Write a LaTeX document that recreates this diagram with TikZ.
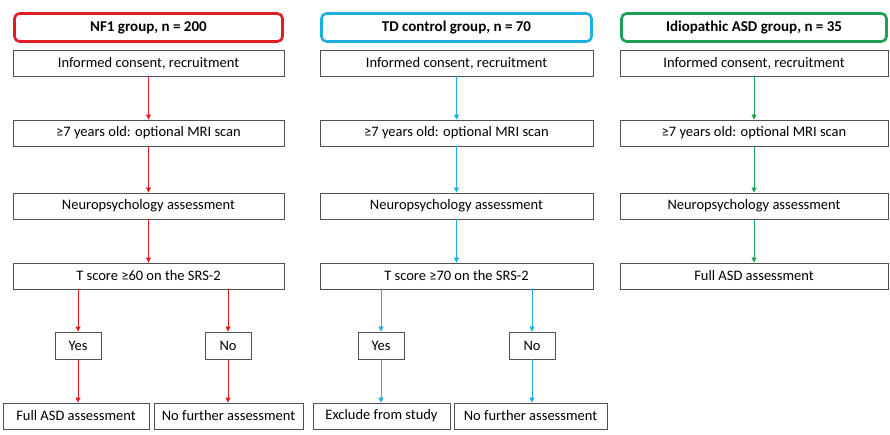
\documentclass[tikz,border=0pt]{standalone}
\usepackage{fontspec}
\setmainfont{Carlito}
\usetikzlibrary{arrows.meta}
\definecolor{nfred}{RGB}{222,30,36}
\definecolor{tdblue}{RGB}{30,174,224}
\definecolor{asdgreen}{RGB}{28,160,84}
\definecolor{boxgray}{RGB}{80,80,80}
\begin{document}
\begin{tikzpicture}[x=1pt,y=-1pt,
  box/.style={draw=boxgray, line width=0.8pt, inner sep=0pt, minimum height=26pt, font=\fontsize{14.5}{17}\selectfont},
  hdr/.style={rounded corners=5pt, line width=2.6pt, inner sep=0pt, minimum height=28pt, font=\bfseries\fontsize{15}{18}\selectfont},
  arr/.style={line width=0.7pt, -{Triangle[length=5pt,width=5pt]}}]
\useasboundingbox (0,0) rectangle (890,434);
% NF1 column
\node[hdr, draw=nfred, minimum width=268pt] (h1) at (148.5,27.5) {NF1 group, n = 200};
\node[box, minimum width=271pt] (a1) at (148.5,63) {Informed consent, recruitment};
\node[box, minimum width=271pt] (b1) at (148.5,133) {≥7 years old: optional MRI scan};
\node[box, minimum width=271pt] (c1) at (148.5,206) {Neuropsychology assessment};
\node[box, minimum width=271pt] (d1) at (148.5,276) {T score ≥60 on the SRS-2};
\node[box, minimum width=46pt, minimum height=27pt] (y1) at (78,345.5) {Yes};
\node[box, minimum width=46pt, minimum height=27pt] (n1) at (228,345.5) {No};
\node[box, minimum width=146pt] (e1) at (76,416) {Full ASD assessment};
\node[box, minimum width=149pt] (f1) at (228.5,416) {No further assessment};
\begin{scope}[nfred]
\draw[arr] (a1) -- (b1);
\draw[arr] (b1) -- (c1);
\draw[arr] (c1) -- (d1);
\draw[arr] (d1.south -| y1.north) -- (y1.north);
\draw[arr] (d1.south -| n1.north) -- (n1.north);
\draw[arr] (y1.south) -- (y1.south |- e1.north);
\draw[arr] (n1.south) -- (n1.south |- f1.north);
\end{scope}
% TD column
\node[hdr, draw=tdblue, minimum width=270pt] (h2) at (456.5,27.5) {TD control group, n = 70};
\node[box, minimum width=273pt] (a2) at (456.5,63) {Informed consent, recruitment};
\node[box, minimum width=273pt] (b2) at (456.5,133) {≥7 years old: optional MRI scan};
\node[box, minimum width=273pt] (c2) at (456.5,206) {Neuropsychology assessment};
\node[box, minimum width=273pt] (d2) at (456.5,276) {T score ≥70 on the SRS-2};
\node[box, minimum width=46pt, minimum height=27pt] (y2) at (381,345.5) {Yes};
\node[box, minimum width=46pt, minimum height=27pt] (n2) at (532,345.5) {No};
\node[box, minimum width=137pt] (e2) at (381.5,416) {Exclude from study};
\node[box, minimum width=153pt] (f2) at (530.5,416) {No further assessment};
\begin{scope}[tdblue]
\draw[arr] (a2) -- (b2);
\draw[arr] (b2) -- (c2);
\draw[arr] (c2) -- (d2);
\draw[arr] (d2.south -| y2.north) -- (y2.north);
\draw[arr] (d2.south -| n2.north) -- (n2.north);
\draw[arr] (y2.south) -- (y2.south |- e2.north);
\draw[arr] (n2.south) -- (n2.south |- f2.north);
\end{scope}
% ASD column
\node[hdr, draw=asdgreen, minimum width=265pt] (h3) at (754,27.5) {Idiopathic ASD group, n = 35};
\node[box, minimum width=268pt] (a3) at (754,63) {Informed consent, recruitment};
\node[box, minimum width=268pt] (b3) at (754,133) {≥7 years old: optional MRI scan};
\node[box, minimum width=268pt] (c3) at (754,206) {Neuropsychology assessment};
\node[box, minimum width=268pt] (d3) at (754,276) {Full ASD assessment};
\begin{scope}[asdgreen]
\draw[arr] (a3) -- (b3);
\draw[arr] (b3) -- (c3);
\draw[arr] (c3) -- (d3);
\end{scope}
\end{tikzpicture}
\end{document}
